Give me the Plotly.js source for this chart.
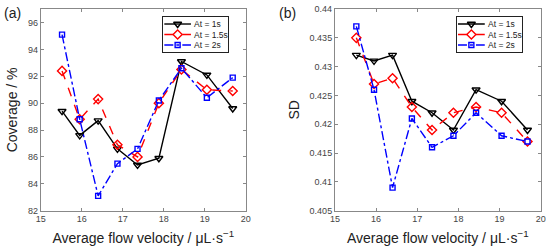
<!DOCTYPE html>
<html>
<head>
<meta charset="utf-8">
<script src="https://cdn.plot.ly/plotly-3.0.1.min.js"></script>
<style>body{margin:0;background:#fff}#plot{width:550px;height:252px}</style>
</head>
<body>
<div id="plot"></div>
<script>
// flow velocities (µL/s)
var velocity = [15.52, 15.95, 16.4, 16.87, 17.36, 17.88, 18.43, 19.05, 19.68];

// (a) coverage %
var cov1s  = [89.4, 87.6, 88.7, 86.6, 85.4, 85.9, 93.1, 92.1, 89.6];
var cov15s = [92.4, 88.8, 90.3, 86.9, 86.0, 90.0, 92.5, 91.0, 90.9];
var cov2s  = [95.1, 88.8, 83.1, 85.5, 86.6, 90.2, 92.6, 90.4, 91.9];

// (b) SD
var sd1s  = [0.432, 0.431, 0.432, 0.424, 0.422, 0.419, 0.426, 0.424, 0.419];
var sd15s = [0.435, 0.427, 0.428, 0.423, 0.419, 0.422, 0.423, 0.422, 0.417];
var sd2s  = [0.437, 0.426, 0.409, 0.421, 0.416, 0.418, 0.422, 0.418, 0.417];

var names = ['At = 1s', 'At = 1.5s', 'At = 2s'];
var styles = [
  {color: 'black', dash: 'solid', symbol: 'triangle-down-open', size: 7},
  {color: 'red', dash: 'dash', symbol: 'diamond-open', size: 7},
  {color: 'blue', dash: 'dashdot', symbol: 'square-open', size: 5}
];

function mk(x, y, i, xa, ya, mode) {
  var s = styles[i];
  return {
    x: x, y: y, name: names[i], xaxis: xa, yaxis: ya,
    mode: mode || 'lines+markers',
    line: {color: s.color, dash: s.dash, width: 1.4},
    marker: {symbol: s.symbol, size: s.size, color: s.color, line: {color: s.color, width: 1.4}}
  };
}

var data = [
  mk(velocity, cov1s, 0, 'x', 'y'),
  mk(velocity, cov15s, 1, 'x', 'y'),
  mk(velocity, cov2s, 2, 'x', 'y'),
  mk(velocity, sd1s, 0, 'x2', 'y2'),
  mk(velocity, sd15s, 1, 'x2', 'y2'),
  mk(velocity, sd2s, 2, 'x2', 'y2')
];

// hand-made legend boxes (small axes 3/4, range 0..1)
var rowY = [0.8, 0.5, 0.2];
var font = 'Liberation Sans, Arial';
var annotations = [];
[['x3', 'y3'], ['x4', 'y4']].forEach(function (p) {
  for (var i = 0; i < 3; i++) {
    data.push(mk([0.02, 0.43], [rowY[i], rowY[i]], i, p[0], p[1], 'lines'));
    data.push(mk([0.225], [rowY[i]], i, p[0], p[1], 'markers'));
    annotations.push({text: names[i], xref: p[0], yref: p[1], x: 0.45, y: rowY[i], xanchor: 'left', yanchor: 'middle',
      showarrow: false, font: {family: font, size: 8.5, color: '#222'}});
  }
});

var axBase = {
  showgrid: false, zeroline: false, showline: true, mirror: 'allticks',
  linecolor: '#888', linewidth: 1, ticks: 'inside', ticklen: 3, tickcolor: '#888',
  tickfont: {family: font, size: 9, color: '#444'}
};
function ax(extra) { return Object.assign({}, axBase, extra); }
function legAx(dom, anchor) {
  return {domain: dom, range: [0, 1], anchor: anchor, showgrid: false, zeroline: false, showticklabels: false,
    ticks: '', showline: true, mirror: true, linecolor: '#222', linewidth: 1, fixedrange: true};
}

var xTitle = {text: 'Average flow velocity / μL·s<sup>−1</sup>', font: {family: font, size: 14, color: '#222'}, standoff: 9};

var annAll = annotations.concat([
  {text: '(a)', xref: 'paper', yref: 'paper', x: 0.003, y: 0.99, xanchor: 'left', yanchor: 'top', showarrow: false,
    font: {family: font, size: 14, color: '#222'}},
  {text: '(b)', xref: 'paper', yref: 'paper', x: 0.503, y: 0.99, xanchor: 'left', yanchor: 'top', showarrow: false,
    font: {family: font, size: 14, color: '#222'}}
]);

var layout = {
  width: 550, height: 252,
  margin: {l: 0, r: 0, t: 0, b: 0},
  showlegend: false,
  paper_bgcolor: 'white', plot_bgcolor: 'white',
  xaxis: ax({domain: [0.074, 0.447], range: [15, 20], dtick: 1, title: xTitle, anchor: 'y'}),
  yaxis: ax({domain: [0.164, 0.964], range: [82, 97], tickvals: [82, 84, 86, 88, 90, 92, 94, 96], anchor: 'x',
    title: {text: 'Coverage / %', font: {family: font, size: 14, color: '#222'}, standoff: 6}}),
  xaxis2: ax({domain: [0.609, 0.983], range: [15, 20], dtick: 1, title: xTitle, anchor: 'y2'}),
  yaxis2: ax({domain: [0.164, 0.964], range: [0.405, 0.44], tickvals: [0.405, 0.41, 0.415, 0.42, 0.425, 0.43, 0.435, 0.44],
    ticktext: ['0.405', '0.41', '0.415', '0.42', '0.425', '0.43', '0.435', '0.44'], anchor: 'x2',
    title: {text: 'SD', font: {family: font, size: 14, color: '#222'}, standoff: 6}}),
  xaxis3: legAx([0.2964, 0.4145], 'y3'),
  yaxis3: legAx([0.7937, 0.9325], 'x3'),
  xaxis4: legAx([0.8303, 0.9491], 'y4'),
  yaxis4: legAx([0.7937, 0.9325], 'x4'),
  annotations: annAll
};

Plotly.newPlot('plot', data, layout, {displayModeBar: false, staticPlot: true});
</script>
</body>
</html>
